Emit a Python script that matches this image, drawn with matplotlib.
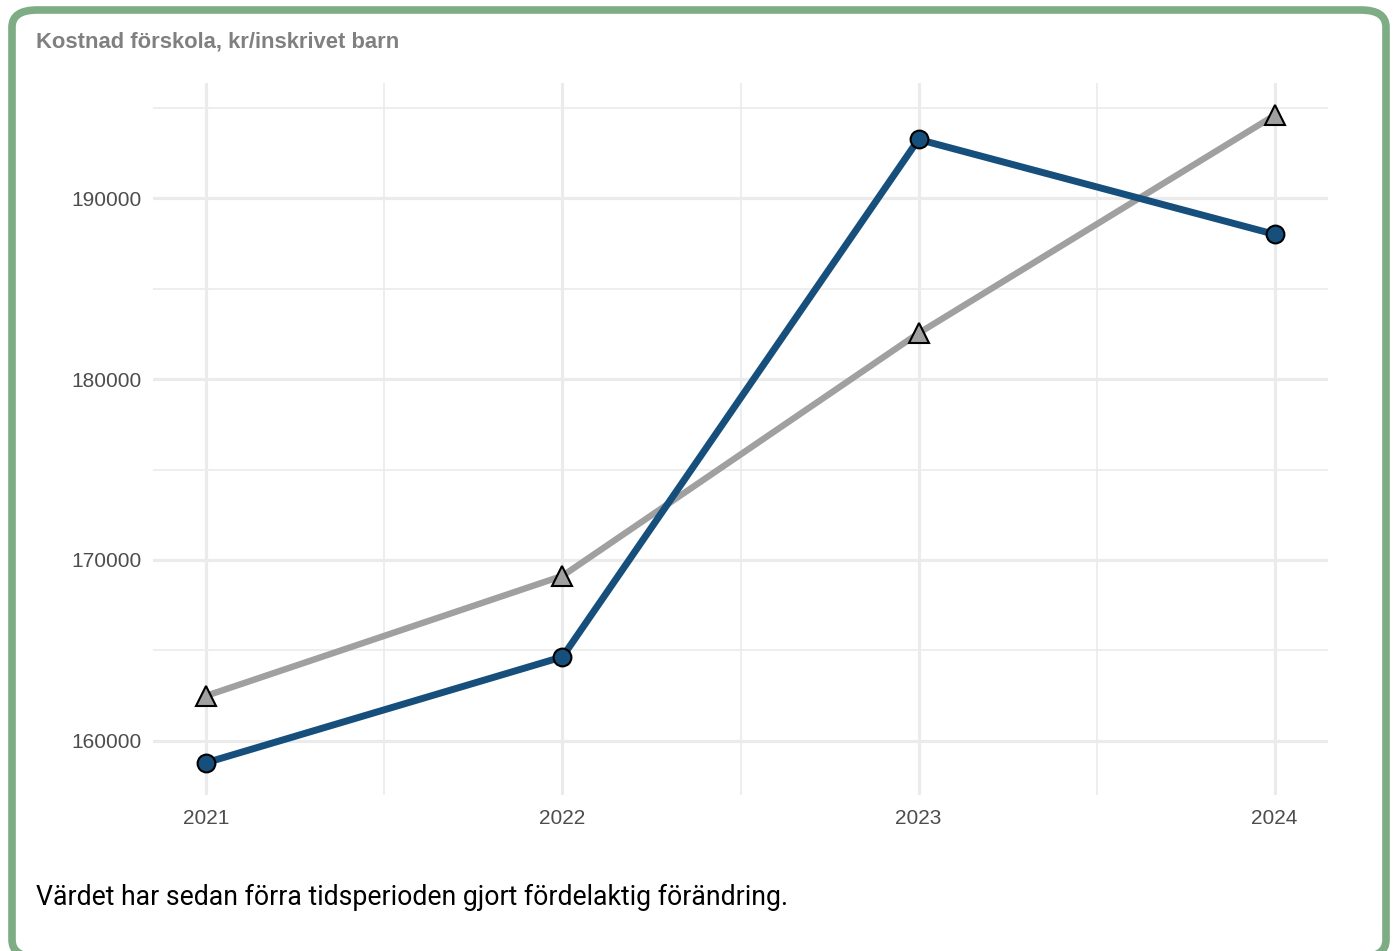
import matplotlib.pyplot as plt
from matplotlib.patches import FancyBboxPatch
from matplotlib.ticker import MultipleLocator

years = [2021, 2022, 2023, 2024]
kommun = [158790, 164640, 193260, 188010]
jamforelse = [162490, 169120, 182540, 194590]
y_ticks = [160000, 170000, 180000, 190000]

title = "Kostnad förskola, kr/inskrivet barn"
footer = "Värdet har sedan förra tidsperioden gjort fördelaktig förändring."

fig = plt.figure(figsize=(13.98, 9.51), dpi=100)

# kortram
card = FancyBboxPatch((12 / 1398, -6 / 951), 1374 / 1398, 947 / 951,
                      boxstyle="round,pad=0,rounding_size=0.018",
                      transform=fig.transFigure, facecolor="none",
                      edgecolor="#7dac85", linewidth=5.5, zorder=-1)
fig.patches.append(card)

ax = fig.add_axes([153 / 1398, 1 - 795 / 951, 1175 / 1398, 712 / 951])
ax.set_facecolor("none")

ax.plot(years, jamforelse, color="#a0a0a0", linewidth=4.6, zorder=3,
        marker="^", markersize=15, markerfacecolor="#a0a0a0",
        markeredgecolor="black", markeredgewidth=1.5)
ax.plot(years, kommun, color="#174f7c", linewidth=5.0, zorder=4,
        marker="o", markersize=12.8, markerfacecolor="#174f7c",
        markeredgecolor="black", markeredgewidth=1.5)

lo = min(min(kommun), min(jamforelse))
hi = max(max(kommun), max(jamforelse))
pad = (hi - lo) * 0.05
ax.set_ylim(lo - pad, hi + pad)
ax.set_xlim(2021 - 0.15, 2024 + 0.15)

ax.set_xticks(years)
ax.set_xticklabels([str(y) for y in years])
ax.set_yticks(y_ticks)
ax.set_yticklabels([str(v) for v in y_ticks])
ax.xaxis.set_minor_locator(MultipleLocator(0.5))
ax.yaxis.set_minor_locator(MultipleLocator(5000))

ax.grid(True, which="major", color="#ebebeb", linewidth=2.3, zorder=1)
ax.grid(True, which="minor", color="#ebebeb", linewidth=1.2, zorder=1)
ax.set_axisbelow(True)
for s in ax.spines.values():
    s.set_visible(False)
ax.tick_params(which="both", length=0)
ax.tick_params(axis="both", labelsize=15, labelcolor="#4d4d4d")
ax.tick_params(axis="x", pad=10)
ax.tick_params(axis="y", pad=8)
for lbl in ax.get_xticklabels() + ax.get_yticklabels():
    lbl.set_family("Liberation Sans")

fig.text(36 / 1398, 1 - 42 / 951, title, fontsize=15.8, fontweight="bold",
         color="#808080", family="Liberation Sans", va="center", ha="left")
fig.text(36 / 1398, 1 - 897 / 951, footer, fontsize=19.2, color="black",
         family="Roboto", va="center", ha="left")

fig.savefig("out.png", dpi=100, facecolor="white")
